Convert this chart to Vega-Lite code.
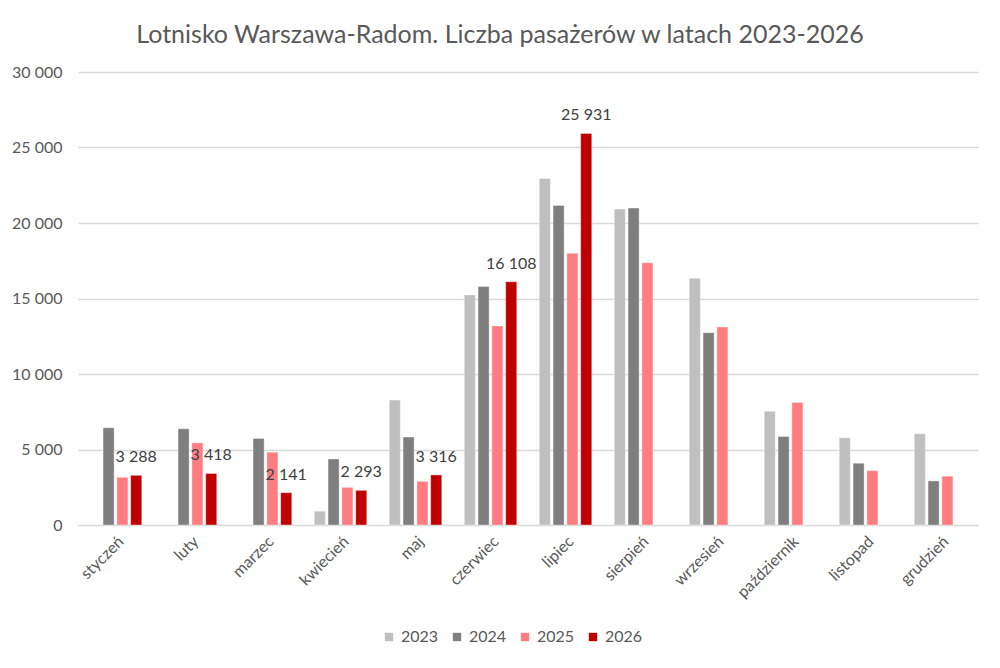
{
  "$schema": "https://vega.github.io/schema/vega-lite/v6.json",
  "width": 900,
  "height": 453,
  "autosize": "none",
  "padding": {"left": 78, "top": 72, "right": 22, "bottom": 143},
  "title": {
    "text": "Lotnisko Warszawa-Radom. Liczba pasażerów w latach 2023-2026",
    "font": "Lato",
    "fontSize": 25,
    "fontWeight": "normal",
    "color": "#595959",
    "dx": -28,
    "offset": 16
  },
  "data": {
    "values": [
      {"miesiac": "styczeń", "rok": "2024", "pasazerowie": 6440},
      {"miesiac": "styczeń", "rok": "2025", "pasazerowie": 3160},
      {"miesiac": "styczeń", "rok": "2026", "pasazerowie": 3288},
      {"miesiac": "luty", "rok": "2024", "pasazerowie": 6370},
      {"miesiac": "luty", "rok": "2025", "pasazerowie": 5440},
      {"miesiac": "luty", "rok": "2026", "pasazerowie": 3418},
      {"miesiac": "marzec", "rok": "2024", "pasazerowie": 5730},
      {"miesiac": "marzec", "rok": "2025", "pasazerowie": 4820},
      {"miesiac": "marzec", "rok": "2026", "pasazerowie": 2141},
      {"miesiac": "kwiecień", "rok": "2023", "pasazerowie": 910},
      {"miesiac": "kwiecień", "rok": "2024", "pasazerowie": 4370},
      {"miesiac": "kwiecień", "rok": "2025", "pasazerowie": 2490},
      {"miesiac": "kwiecień", "rok": "2026", "pasazerowie": 2293},
      {"miesiac": "maj", "rok": "2023", "pasazerowie": 8270},
      {"miesiac": "maj", "rok": "2024", "pasazerowie": 5820},
      {"miesiac": "maj", "rok": "2025", "pasazerowie": 2890},
      {"miesiac": "maj", "rok": "2026", "pasazerowie": 3316},
      {"miesiac": "czerwiec", "rok": "2023", "pasazerowie": 15240},
      {"miesiac": "czerwiec", "rok": "2024", "pasazerowie": 15790},
      {"miesiac": "czerwiec", "rok": "2025", "pasazerowie": 13180},
      {"miesiac": "czerwiec", "rok": "2026", "pasazerowie": 16108},
      {"miesiac": "lipiec", "rok": "2023", "pasazerowie": 22950},
      {"miesiac": "lipiec", "rok": "2024", "pasazerowie": 21160},
      {"miesiac": "lipiec", "rok": "2025", "pasazerowie": 17990},
      {"miesiac": "lipiec", "rok": "2026", "pasazerowie": 25931},
      {"miesiac": "sierpień", "rok": "2023", "pasazerowie": 20920},
      {"miesiac": "sierpień", "rok": "2024", "pasazerowie": 20990},
      {"miesiac": "sierpień", "rok": "2025", "pasazerowie": 17360},
      {"miesiac": "wrzesień", "rok": "2023", "pasazerowie": 16340},
      {"miesiac": "wrzesień", "rok": "2024", "pasazerowie": 12740},
      {"miesiac": "wrzesień", "rok": "2025", "pasazerowie": 13110},
      {"miesiac": "październik", "rok": "2023", "pasazerowie": 7540},
      {"miesiac": "październik", "rok": "2024", "pasazerowie": 5860},
      {"miesiac": "październik", "rok": "2025", "pasazerowie": 8120},
      {"miesiac": "listopad", "rok": "2023", "pasazerowie": 5770},
      {"miesiac": "listopad", "rok": "2024", "pasazerowie": 4090},
      {"miesiac": "listopad", "rok": "2025", "pasazerowie": 3600},
      {"miesiac": "grudzień", "rok": "2023", "pasazerowie": 6040},
      {"miesiac": "grudzień", "rok": "2024", "pasazerowie": 2920},
      {"miesiac": "grudzień", "rok": "2025", "pasazerowie": 3230}
    ]
  },
  "encoding": {
    "x": {
      "field": "miesiac",
      "type": "nominal",
      "sort": ["styczeń", "luty", "marzec", "kwiecień", "maj", "czerwiec", "lipiec", "sierpień", "wrzesień", "październik", "listopad", "grudzień"],
      "title": null,
      "scale": {"paddingInner": 0.3, "paddingOuter": 0.15},
      "axis": {
        "labelAngle": -45,
        "labelFontSize": 16,
        "labelColor": "#595959",
        "labelPadding": 8,
        "ticks": false,
        "domainColor": "#d9d9d9",
        "grid": false
      }
    },
    "xOffset": {
      "field": "rok",
      "type": "nominal",
      "scale": {"domain": ["2023", "2024", "2025", "2026"], "paddingInner": 0.2, "paddingOuter": 0}
    },
    "y": {
      "field": "pasazerowie",
      "type": "quantitative",
      "title": null,
      "scale": {"domain": [0, 30000]},
      "axis": {
        "values": [0, 5000, 10000, 15000, 20000, 25000, 30000],
        "format": ",d",
        "labelFontSize": 16,
        "labelColor": "#595959",
        "labelPadding": 16,
        "domain": false,
        "ticks": false,
        "gridColor": "#d9d9d9",
        "gridWidth": 1.3
      }
    }
  },
  "layer": [
    {
      "mark": {"type": "bar", "stroke": "#ffffff", "strokeWidth": 0.6, "strokeOpacity": 0.6},
      "encoding": {
        "color": {
          "field": "rok",
          "type": "nominal",
          "scale": {"domain": ["2023", "2024", "2025", "2026"], "range": ["#bfbfbf", "#7f7f7f", "#ff7c80", "#c00000"]},
          "legend": {
            "title": null,
            "orient": "none",
            "direction": "horizontal",
            "legendX": 303,
            "legendY": 557,
            "symbolType": "square",
            "symbolSize": 70,
            "symbolStrokeWidth": 0,
            "labelFontSize": 16,
            "labelColor": "#595959",
            "columnPadding": 10
          }
        }
      }
    },
    {
      "transform": [{"filter": "datum.rok == '2026'"}],
      "mark": {"type": "text", "dy": -18, "fontSize": 16, "color": "#404040"},
      "encoding": {"text": {"field": "pasazerowie", "type": "quantitative", "format": ",d"}}
    }
  ],
  "config": {
    "font": "Lato",
    "locale": {"number": {"decimal": ",", "thousands": " ", "grouping": [3], "currency": ["", " zł"]}},
    "view": {"stroke": null}
  }
}
